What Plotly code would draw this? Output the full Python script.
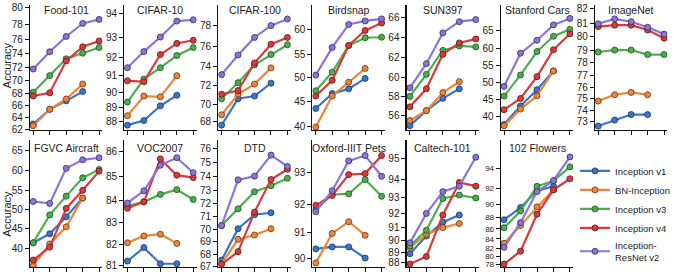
import numpy as np
import plotly.graph_objects as go

# ---------------- data (accuracy, %) ----------------
models = ["Inception v1", "BN-Inception", "Inception v3", "Inception v4", "Inception-ResNet v2"]
legend_names = ["Inception v1", "BN-Inception", "Inception v3", "Inception v4", "Inception-<br>ResNet v2"]
datasets = ["Food-101", "CIFAR-10", "CIFAR-100", "Birdsnap", "SUN397", "Stanford Cars", "ImageNet",
            "FGVC Aircraft", "VOC2007", "DTD", "Oxford-IIIT Pets", "Caltech-101", "102 Flowers"]

food101 = [[62.9, 65.4, 66.8, 68.3], [62.6, 65.4, 67.1, 69.5], [68.2, 70.8, 73.3, 74.1, 74.9],
           [67.6, 68.1, 73.0, 75.0, 75.8], [71.8, 74.3, 76.4, 78.1, 78.6]]
cifar10 = [[87.7, 88.05, 89.1, 89.8], [88.4, 89.75, 89.7, 91.0], [89.35, 90.8, 91.45, 92.1, 92.5],
           [90.7, 90.65, 92.15, 92.7, 92.85], [91.45, 92.3, 93.0, 93.7, 93.75]]
cifar100 = [[67.6, 70.6, 70.9, 72.3], [68.8, 71.1, 72.2, 73.9], [70.6, 72.35, 74.2, 75.25, 76.2],
            [71.1, 71.5, 74.4, 76.25, 76.9], [73.2, 75.2, 76.9, 78.0, 78.6]]
birdsnap = [[43.6, 46.7, 47.7, 49.9], [39.8, 46.2, 49.1, 52.0], [47.3, 51.2, 56.8, 58.4, 58.5],
            [46.2, 49.5, 56.8, 59.9, 61.4], [50.6, 56.4, 61.1, 61.8, 62.2]]
sun397 = [[54.9, 56.5, 57.8, 58.8], [55.45, 56.5, 58.4, 59.55], [58.0, 60.3, 62.75, 63.2, 63.1],
          [56.9, 58.8, 62.35, 63.5, 63.9], [58.9, 61.4, 64.5, 65.6, 65.8]]
cars = [[37.7, 43.0, 47.8, 53.4], [37.3, 42.1, 46.0, 53.4], [45.9, 52.2, 59.1, 63.4, 65.3],
        [41.9, 45.2, 51.7, 59.6, 64.1], [48.8, 58.6, 62.3, 66.5, 68.2]]
imagenet = [[72.55, 73.1, 73.6, 73.6], [74.8, 75.35, 75.55, 75.35], [78.85, 79.0, 79.0, 78.65, 78.65],
            [80.75, 80.85, 80.85, 80.5, 79.9], [80.95, 81.3, 81.1, 80.7, 80.2]]
fgvc = [[41.4, 43.7, 48.1, 53.0], [35.8, 41.1, 45.5, 53.0], [41.4, 48.6, 53.5, 58.2, 60.3],
        [37.1, 40.3, 50.3, 55.0, 59.9], [52.1, 51.6, 60.6, 62.7, 63.2]]
voc2007 = [[81.2, 81.85, 81.07, 81.07], [82.08, 82.4, 82.48, 82.05], [83.75, 83.93, 84.25, 84.45, 84.03],
           [83.65, 83.93, 85.7, 85.05, 84.95], [83.88, 84.4, 85.45, 85.75, 85.15]]
dtd = [[67.5, 70.05, 71.15, 71.3], [67.2, 69.2, 69.55, 70.05], [70.3, 71.6, 72.9, 73.35, 73.9],
       [67.15, 68.2, 71.35, 73.8, 74.55], [70.3, 73.78, 74.05, 75.55, 74.75]]
pets = [[90.37, 90.45, 90.45, 90.0], [89.8, 90.97, 91.4, 90.9], [91.82, 92.33, 92.35, 92.8, 92.27],
        [91.97, 92.3, 92.95, 92.98, 93.5], [91.75, 92.45, 93.35, 93.5, 92.9]]
caltech = [[88.85, 90.35, 91.4, 91.9], [89.4, 90.5, 91.0, 91.3], [89.55, 90.8, 92.95, 93.15, 92.98],
           [87.9, 88.6, 91.9, 93.85, 93.65], [89.8, 92.0, 93.35, 93.65, 95.05]]
flowers = [[87.6, 89.5, 91.7, 92.2], [83.1, 86.6, 89.6, 91.8], [86.2, 89.0, 92.2, 92.8, 94.1],
           [78.1, 81.3, 88.5, 91.8, 93.0], [82.2, 87.1, 91.6, 92.8, 94.9]]

all_data = [food101, cifar10, cifar100, birdsnap, sun397, cars, imagenet,
            fgvc, voc2007, dtd, pets, caltech, flowers]

ytick_labels = [
    [62, 64, 66, 68, 70, 72, 74, 76, 78, 80],
    [88, 89, 90, 91, 92, 93, 94],
    [68, 70, 72, 74, 76, 78],
    [40, 45, 50, 55, 60],
    [56, 58, 60, 62, 64, 66],
    [40, 45, 50, 55, 60, 65],
    [73, 74, 75, 76, 77, 78, 79, 80, 81, 82],
    [40, 45, 50, 55, 60, 65],
    [81, 82, 83, 84, 85, 86],
    [67, 68, 69, 70, 71, 72, 73, 74, 75, 76],
    [90, 91, 92, 93],
    [88, 89, 90, 91, 92, 93, 94, 95],
    [78, 80, 82, 84, 86, 88, 90, 92, 94],
]

# ---------------- layout / style ----------------
W, H = 675, 275
colors = ["#3d74c6", "#ef8538", "#4cae4f", "#d83b3b", "#8b76d8"]
edge = ["#1f3f6e", "#7a4018", "#225c25", "#6e1c1c", "#403470"]
FONT = "Liberation Sans, Arial, Helvetica, sans-serif"

# pixel calibration (tick value, pixel y) pairs for each panel
calib = [((80, 5.0), (62, 130.0)), ((94, 11.0), (88, 121.7)), ((78, 23.3), (68, 122.3)),
         ((60, 27.7), (40, 126.7)), ((66, 15.0), (56, 115.7)), ((65, 28.3), (40, 116.7)),
         ((82, 6.0), (73, 121.7)),
         ((65, 151.7), (40, 252.7)), ((86, 152.7), (81, 270.0)), ((76, 150.0), (67, 271.0)),
         ((93, 175.0), (90, 262.7)), ((95, 160.0), (88, 267.7)), ((94, 170.0), (78, 269.3))]
tick_sizes = [10] * 12 + [8]
rows = [(2, 131), (141, 272)]
left0, step, pw = 30.0, 94.3, 72.6


def logit(p):
    p = np.asarray(p, dtype=float) / 100.0
    return np.log(p / (1 - p))


fig = go.Figure()
annotations = []
for i, (name, dat) in enumerate(zip(datasets, all_data)):
    r = 0 if i < 7 else 1
    c = i if i < 7 else i - 7
    top, bot = rows[r]
    left = left0 + step * c
    (a, ya), (b, yb) = calib[i]
    s = (yb - ya) / (logit(a) - logit(b))
    ytop = logit(a) + (ya - top) / s
    ybot = logit(b) - (bot - yb) / s
    k = i + 1
    xa = "x" if k == 1 else f"x{k}"
    yaname = "y" if k == 1 else f"y{k}"
    axis_common = dict(showline=True, linecolor="#111", linewidth=1.1, showgrid=False,
                       zeroline=False, ticks="outside", ticklen=4, tickwidth=1, tickcolor="#111")
    fig.layout[f"xaxis{'' if k == 1 else k}"] = dict(
        domain=[left / W, (left + pw) / W], range=[-0.2, 4.2], tickvals=[0, 1, 2, 3, 4],
        showticklabels=False, anchor=yaname, **axis_common)
    fig.layout[f"yaxis{'' if k == 1 else k}"] = dict(
        domain=[1 - bot / H, 1 - top / H], range=[float(ybot), float(ytop)],
        tickvals=list(logit(ytick_labels[i])), ticktext=[str(t) for t in ytick_labels[i]],
        tickfont=dict(size=tick_sizes[i], family=FONT, color="#222"), ticklabeloverflow="allow",
        anchor=xa, **axis_common)
    for m, series in enumerate(dat):
        fig.add_trace(go.Scatter(
            x=list(range(len(series))), y=logit(series), xaxis=xa, yaxis=yaname,
            mode="lines+markers", name=legend_names[m], legendgroup=models[m],
            showlegend=(i == 0),
            line=dict(color=colors[m], width=2.2),
            marker=dict(size=6, color=colors[m], line=dict(color=edge[m], width=0.9)),
            hoverinfo="skip"))
    title_y = top + (5 if r == 0 else 8)
    annotations.append(dict(text=name, x=(left + pw / 2) / W, y=1 - title_y / H, xref="paper",
                            yref="paper", showarrow=False, xanchor="center", yanchor="middle",
                            font=dict(size=10.5, family=FONT, color="#222")))

for yc in (64, 217):
    annotations.append(dict(text="Accuracy", x=7 / W, y=1 - yc / H, xref="paper", yref="paper",
                            showarrow=False, textangle=-90, xanchor="center", yanchor="middle",
                            font=dict(size=11, family=FONT, color="#222")))

fig.update_layout(
    width=W, height=H, margin=dict(l=0, r=0, t=0, b=0),
    paper_bgcolor="white", plot_bgcolor="white",
    annotations=annotations,
    showlegend=True,
    hovermode=False,
    legend=dict(x=576 / W, y=1 - 158 / H, xanchor="left", yanchor="top",
                font=dict(size=9.5, family=FONT, color="#222"), tracegroupgap=0,
                itemwidth=30, bgcolor="rgba(0,0,0,0)", borderwidth=0),
)

fig.write_html("out.html", config={"displayModeBar": False, "staticPlot": True},
               post_script="document.body.style.margin='0';document.body.style.padding='0';")
